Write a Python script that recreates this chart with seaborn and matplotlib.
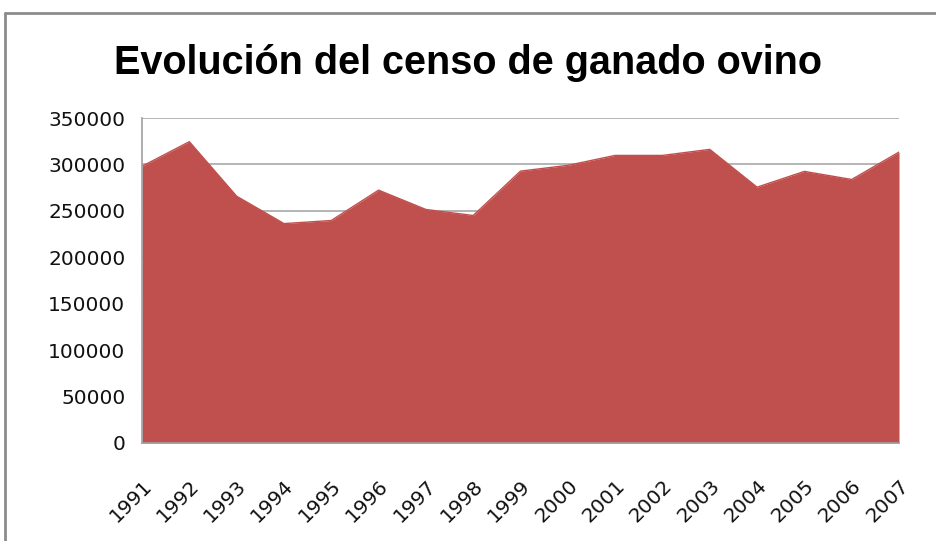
import matplotlib
matplotlib.use("Agg")
import matplotlib.pyplot as plt
import seaborn as sns
from matplotlib.lines import Line2D

years = [1991, 1992, 1993, 1994, 1995, 1996, 1997, 1998, 1999,
         2000, 2001, 2002, 2003, 2004, 2005, 2006, 2007]
censo = [298000, 324500, 265800, 236300, 239600, 272300, 251500, 245000, 292800,
         299000, 309700, 309700, 316200, 275500, 292500, 283800, 313300]
title = "Evolución del censo de ganado ovino"
y_ticks = [0, 50000, 100000, 150000, 200000, 250000, 300000, 350000]

sns.set_style("white")
plt.rcParams['font.family'] = ['DejaVu Sans']

fill_color = "#C0504D"

fig = plt.figure(figsize=(9.37, 5.41), dpi=100)
ax = fig.add_axes([142 / 937, 1 - 443 / 541, (899 - 142) / 937, (443 - 118) / 541])

# area chart: line from seaborn, fill underneath
sns.lineplot(x=years, y=censo, ax=ax, color=fill_color, linewidth=1)
ax.fill_between(years, censo, 0, color=fill_color, linewidth=0, zorder=2)

ax.set_xlim(years[0], years[-1])
ax.set_ylim(0, 350000)
ax.set_yticks(y_ticks)
ax.set_yticklabels([str(v) for v in y_ticks], fontsize=14.5, color="#111111")
ax.set_xticks(years)
ax.set_xticklabels([str(y) for y in years], rotation=45, ha="right",
                   rotation_mode="anchor", fontsize=14.5, color="#111111")
ax.tick_params(axis="x", length=0, pad=24)
ax.tick_params(axis="y", length=0, pad=12)

ax.yaxis.grid(True, color="#a8a8a8", linewidth=1.2)
ax.set_axisbelow(True)
for side in ["top", "right"]:
    ax.spines[side].set_visible(False)
for side in ["left", "bottom"]:
    ax.spines[side].set_color("#a0a0a0")
    ax.spines[side].set_linewidth(1.2)

fig.text(0.5, 1 - 63 / 541, title, ha="center", va="center", color="black",
         fontsize=28.5, fontweight="bold", family=["Liberation Sans", "DejaVu Sans"])

# chart-area border (left and top edges visible)
fig.add_artist(Line2D([5 / 937, 5 / 937], [0, 1 - 13 / 541], transform=fig.transFigure,
                      color="#8c8c8c", linewidth=2))
fig.add_artist(Line2D([5 / 937, 1], [1 - 13 / 541, 1 - 13 / 541], transform=fig.transFigure,
                      color="#8c8c8c", linewidth=2))

fig.savefig("out.png", dpi=100)
